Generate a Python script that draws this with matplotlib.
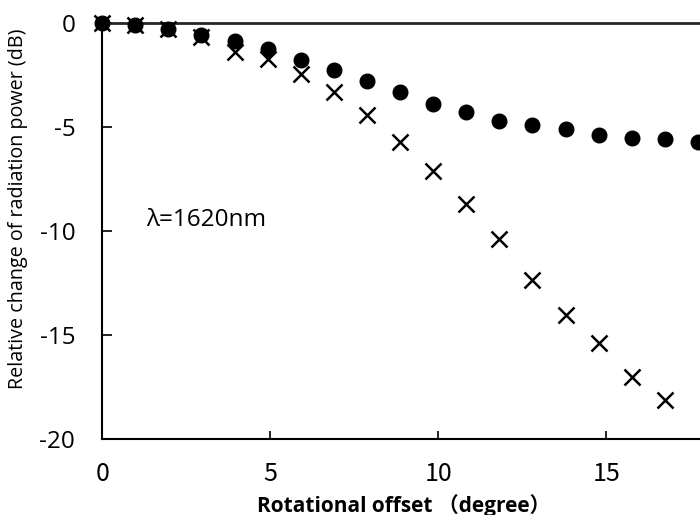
import matplotlib
matplotlib.use("Agg")
import matplotlib.pyplot as plt

# Rotational offset (degree) and relative change of radiation power (dB)
offset_circle = [0.0, 0.98, 1.97, 2.95, 3.94, 4.92, 5.91, 6.89, 7.88, 8.86,
                 9.85, 10.83, 11.82, 12.80, 13.79, 14.77, 15.76, 16.74, 17.73]
power_circle = [0.0, -0.11, -0.32, -0.59, -0.87, -1.28, -1.79, -2.27, -2.79, -3.32,
                -3.89, -4.31, -4.71, -4.92, -5.11, -5.40, -5.53, -5.61, -5.72]

offset_cross = [0.0, 0.98, 1.97, 2.95, 3.94, 4.92, 5.91, 6.89, 7.88, 8.86,
                9.85, 10.83, 11.82, 12.80, 13.79, 14.77, 15.76, 16.74]
power_cross = [0.0, -0.10, -0.30, -0.70, -1.39, -1.76, -2.47, -3.32, -4.44, -5.72,
               -7.12, -8.72, -10.41, -12.37, -14.02, -15.41, -17.02, -18.14]

x_ticks = [0, 5, 10, 15]
y_ticks = [0, -5, -10, -15, -20]

fig = plt.figure(figsize=(7.0, 5.15), dpi=100)
ax = fig.add_axes([102.3 / 700, 76 / 515, (700 - 102.3) / 700, 416.3 / 515])

ax.plot(offset_circle, power_circle, linestyle="none", marker="o",
        markersize=10.5, color="black", clip_on=False, zorder=3)
ax.plot(offset_cross, power_cross, linestyle="none", marker="x",
        markersize=11, markeredgewidth=1.8, color="black", clip_on=False, zorder=3)

ax.set_xlim(0, (700 - 102.3) / 33.6)
ax.set_ylim(-20, 0)

ax.set_xticks(x_ticks)
ax.set_yticks(y_ticks)
ax.set_xticklabels([str(v) for v in x_ticks],
                   fontfamily=["Noto Sans CJK JP", "DejaVu Sans"], fontsize=18)
ax.set_yticklabels([str(v) for v in y_ticks],
                   fontfamily=["Open Sans", "DejaVu Sans"], fontsize=17.5)

ax.tick_params(axis="x", direction="in", length=6, width=1.2, pad=15.5, bottom=True, top=False)
ax.tick_params(axis="y", direction="in", length=7, width=1.2, pad=19.5, left=True, right=False)

for side in ("left", "bottom"):
    ax.spines[side].set_linewidth(1.5)
    ax.spines[side].set_color("black")
ax.spines["top"].set_linewidth(2.0)
ax.spines["top"].set_color("#262626")
ax.spines["right"].set_visible(False)

ax.set_ylabel("Relative change of radiation power (dB)",
              fontfamily=["Open Sans", "DejaVu Sans"], fontsize=14.2)
ax.yaxis.label.set_va("center")
ax.yaxis.set_label_coords(-0.141, 0.552)

ax.set_xlabel("Rotational offset （degree）",
              fontfamily=["Open Sans", "Noto Sans CJK JP", "DejaVu Sans"],
              fontsize=15, fontweight="bold")
ax.xaxis.label.set_va("center")
ax.xaxis.set_label_coords(0.505, -0.161)

ax.text(1.3, -9.5, "λ=1620nm", fontfamily=["Open Sans", "DejaVu Sans"],
        fontsize=17.5, ha="left", va="center")

fig.savefig("out.png", dpi=100)
